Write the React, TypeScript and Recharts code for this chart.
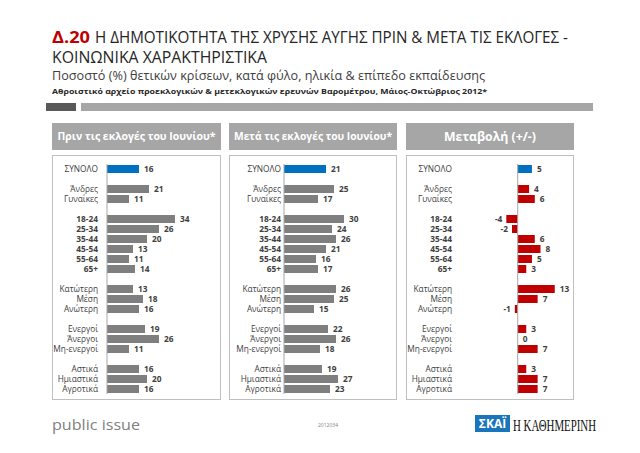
import React from 'react';
import { BarChart, Bar, XAxis, YAxis, Cell, LabelList, ReferenceLine } from 'recharts';

const FONT = '"Open Sans", "Noto Sans", "DejaVu Sans", sans-serif';

const categories = [
  'ΣΥΝΟΛΟ', '', 'Άνδρες', 'Γυναίκες', '',
  '18-24', '25-34', '35-44', '45-54', '55-64', '65+', '',
  'Κατώτερη', 'Μέση', 'Ανώτερη', '',
  'Ενεργοί', 'Άνεργοι', 'Μη-ενεργοί', '',
  'Αστικά', 'Ημιαστικά', 'Αγροτικά',
];
const beforeValues = [16, null, 21, 11, null, 34, 26, 20, 13, 11, 14, null, 13, 18, 16, null, 19, 26, 11, null, 16, 20, 16];
const afterValues = [21, null, 25, 17, null, 30, 24, 26, 21, 16, 17, null, 26, 25, 15, null, 22, 26, 18, null, 19, 27, 23];
const changeValues = [5, null, 4, 6, null, -4, -2, 6, 8, 5, 3, null, 13, 7, -1, null, 3, 0, 7, null, 3, 7, 7];
const panelTitles = ['Πριν τις εκλογές του Ιουνίου*', 'Μετά τις εκλογές του Ιουνίου*', 'Μεταβολή (+/-)'];
const boldLabels = ['18-24', '25-34', '35-44', '45-54', '55-64', '65+'];

const TOTAL_COLOR = '#0070C0';

const makeRows = (values: (number | null)[]) =>
  categories.map((c, i) => ({ key: `k${i}`, label: c, value: values[i] }));

const CatTick = (props: any) => {
  const { x, y, payload } = props;
  const idx = Number(String(payload.value).slice(1));
  const label = categories[idx];
  if (!label) return null;
  const bold = boldLabels.includes(label);
  return (
    <text x={x} y={y} dy="0.35em" textAnchor="end" fontSize={8.3} fontFamily={FONT}
      fontWeight={bold ? 'bold' : 'normal'} fill="#404040">
      {label}
    </text>
  );
};

const ValueLabel = (props: any) => {
  const { x, y, width, height, value } = props;
  if (value === null || value === undefined) return null;
  const xs = Number(x);
  const w = Number(width);
  const right = Math.max(xs, xs + w);
  const left = Math.min(xs, xs + w);
  const neg = Number(value) < 0;
  return (
    <text x={neg ? left - 4 : right + 5} y={Number(y) + Number(height) / 2} dy="0.35em"
      textAnchor={neg ? 'end' : 'start'} fontSize={8.3} fontWeight="bold" fill="#404040" fontFamily={FONT}>
      {value}
    </text>
  );
};

type PanelProps = {
  left: number;
  width: number;
  yWidth: number;
  marginRight: number;
  tickMargin: number;
  domain: [number, number];
  values: (number | null)[];
  color: string;
};

const Panel = ({ left, width, yWidth, marginRight, tickMargin, domain, values, color }: PanelProps) => {
  const rows = makeRows(values);
  return (
    <div style={{ position: 'absolute', left, top: 157 }}>
      <BarChart width={width} height={243} data={rows} layout="vertical" style={{ overflow: 'visible' }}
        margin={{ top: 7, bottom: 6, left: 0, right: marginRight }} barCategoryGap="10%">
        <XAxis type="number" domain={domain} hide allowDataOverflow />
        <YAxis type="category" dataKey="key" width={yWidth} tickSize={0} tickLine={false}
          axisLine={false} tickMargin={tickMargin} interval={0} tick={<CatTick />} />
        <ReferenceLine x={0} stroke="#A6A6A6" strokeWidth={1} />
        <Bar dataKey="value" isAnimationActive={false} minPointSize={0.01}>
          {rows.map((r, i) => (
            <Cell key={r.key} fill={i === 0 ? TOTAL_COLOR : color} />
          ))}
          <LabelList dataKey="value" content={<ValueLabel />} />
        </Bar>
      </BarChart>
    </div>
  );
};

const boxes = [
  { x: 52, w: 169, fs: 10.5, tl: 158 },
  { x: 229, w: 168, fs: 10.5, tl: 158 },
  { x: 406, w: 168, fs: 13, tl: 92 },
];

export default function App() {
  return (
    <div style={{ position: 'absolute', left: 0, top: 0, width: 640, height: 453, background: '#fff', overflow: 'hidden' }}>
      <svg width={640} height={453} style={{ position: 'absolute', left: 0, top: 0 }} fontFamily={FONT}>
        <rect x={0} y={0} width={640} height={453} fill="#fff" />
        <text x={52} y={43} fontSize={15.5} fill="#C00000" fontWeight="bold" textLength={38} lengthAdjust="spacingAndGlyphs">
          Δ.20
        </text>
        <text x={95} y={43} fontSize={15.5} fill="#262626" textLength={473} lengthAdjust="spacingAndGlyphs">
          Η ΔΗΜΟΤΙΚΟΤΗΤΑ ΤΗΣ ΧΡΥΣΗΣ ΑΥΓΗΣ ΠΡΙΝ &amp; ΜΕΤΑ ΤΙΣ ΕΚΛΟΓΕΣ -
        </text>
        <text x={52} y={63} fontSize={15.5} fill="#262626" textLength={215} lengthAdjust="spacingAndGlyphs">
          ΚΟΙΝΩΝΙΚΑ ΧΑΡΑΚΤΗΡΙΣΤΙΚΑ
        </text>
        <text x={52} y={80} fontSize={13} fill="#404040" textLength={433} lengthAdjust="spacingAndGlyphs">
          Ποσοστό (%) θετικών κρίσεων, κατά φύλο, ηλικία &amp; επίπεδο εκπαίδευσης
        </text>
        <text x={52} y={94} fontSize={7.5} fontWeight="bold" fill="#262626" textLength={435} lengthAdjust="spacingAndGlyphs">
          Αθροιστικό αρχείο προεκλογικών &amp; μετεκλογικών ερευνών Βαρομέτρου, Μάιος-Οκτώβριος 2012*
        </text>
        <rect x={46} y={103} width={30} height={8} fill="#595959" />
        <rect x={81} y={103} width={512} height={8} fill="#A6A6A6" />
        {boxes.map((b, i) => (
          <g key={i}>
            <rect x={b.x} y={123} width={b.w} height={27} fill="#A6A6A6" />
            <text x={b.x + (b.w - b.tl) / 2} y={136.5} dy="0.35em" fill="#fff"
              fontWeight="bold" fontSize={b.fs} textLength={b.tl} lengthAdjust="spacingAndGlyphs">
              {panelTitles[i]}
            </text>
            <rect x={b.x + 0.5} y={155.5} width={b.w - 1} height={244} fill="#fff" stroke="#BFBFBF" strokeWidth={1} />
          </g>
        ))}
        <text x={52} y={430} fontSize={15} fill="#808080" textLength={88} lengthAdjust="spacingAndGlyphs">public issue</text>
        <text x={318} y={427} fontSize={5} fill="#808080">2012034</text>
        <rect x={475} y={415} width={35} height={17} fill="#1B75BB" />
        <text x={492.5} y={428} textAnchor="middle" fontSize={12} fontWeight="bold" fill="#fff">ΣΚΑΪ</text>
        <text x={513} y={431} fontSize={16} fill="#111" fontFamily='"Liberation Serif", "DejaVu Serif", serif'
          textLength={83} lengthAdjust="spacingAndGlyphs">Η ΚΑΘΗΜΕΡΙΝΗ</text>
      </svg>
      <Panel left={52} width={169} yWidth={55} marginRight={14} tickMargin={9} domain={[0, 50]}
        values={beforeValues} color="#7F7F7F" />
      <Panel left={229} width={168} yWidth={55} marginRight={13} tickMargin={3} domain={[0, 50]}
        values={afterValues} color="#7F7F7F" />
      <Panel left={406} width={168} yWidth={49} marginRight={5} tickMargin={3} domain={[-22, 18]}
        values={changeValues} color="#C00000" />
    </div>
  );
}
